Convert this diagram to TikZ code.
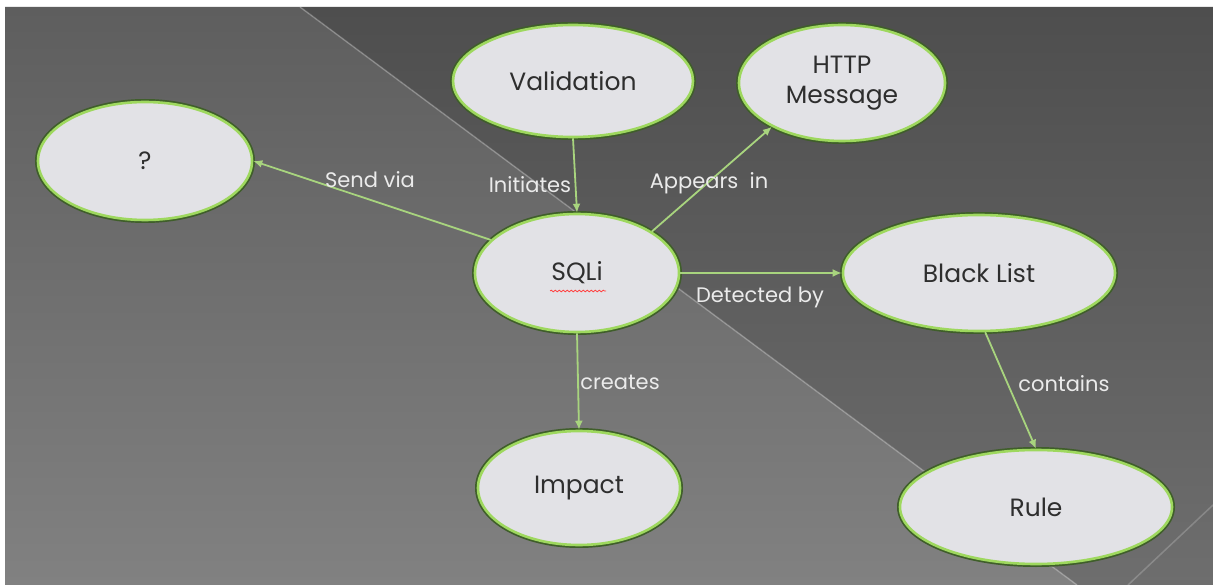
\documentclass[tikz,border=0pt]{standalone}
\usepackage{fontspec}
\setmainfont{Poppins}
\usetikzlibrary{shapes.geometric,arrows.meta,decorations.pathmorphing}

\definecolor{bgTopL}{HTML}{5E5E5E}
\definecolor{bgBotL}{HTML}{818181}
\definecolor{bgTopR}{HTML}{4E4E4E}
\definecolor{bgBotR}{HTML}{6E6E6E}
\definecolor{ringGreen}{HTML}{9ED85E}
\definecolor{ringDark}{HTML}{3F5E2A}
\definecolor{bubbleFill}{HTML}{E2E2E6}
\definecolor{linkGreen}{HTML}{A8D47E}
\definecolor{bubbleText}{HTML}{2E2E2E}
\definecolor{linkText}{HTML}{EBEBEB}

\tikzset{
  concept/.style={ellipse, inner sep=0pt, fill=bubbleFill,
    preaction={draw=ringDark, line width=6pt},
    draw=ringGreen, line width=2.6pt,
    text=bubbleText, font=\fontsize{25}{30}\selectfont, align=center},
  link/.style={draw=linkGreen, line width=1.8pt,
    -{Latex[length=9pt,width=8pt]}},
  linklabel/.style={text=linkText, font=\fontsize{21}{25}\selectfont, inner sep=0pt}
}

\begin{document}
\begin{tikzpicture}[x=1pt,y=-1pt]
  % canvas
  \fill[white] (0,0) rectangle (1213,585);
  \useasboundingbox (0,0) rectangle (1213,585);
  % two-tone slide background split by a diagonal
  \shade[top color=bgTopL, bottom color=bgBotL]
    (5,7) -- (300,7) -- (1077,585) -- (5,585) -- cycle;
  \shade[top color=bgTopR, bottom color=bgBotR]
    (300,7) -- (1213,7) -- (1213,585) -- (1077,585) -- cycle;
  \draw[color=white, opacity=0.25, line width=1.5pt] (300,7) -- (1077,585);
  \draw[color=white, opacity=0.2, line width=1.5pt] (1213,505) -- (1128,585);

  % concepts
  \node[concept, minimum width=214pt, minimum height=118pt] (q)    at (145,161) {?};
  \node[concept, minimum width=240pt, minimum height=112pt] (val)  at (573,81)  {Validation};
  \node[concept, minimum width=206pt, minimum height=116pt] (http) at (842,83)  {HTTP\\Message};
  \node[concept, minimum width=204pt, minimum height=118pt] (sqli) at (577,273) {SQLi};
  \node[concept, minimum width=272pt, minimum height=116pt] (bl)   at (979,273) {Black List};
  \node[concept, minimum width=202pt, minimum height=114pt] (imp)  at (579,488) {Impact};
  \node[concept, minimum width=272pt, minimum height=114pt] (rule) at (1036,507) {Rule};

  % spell-check squiggle under SQLi
  \coordinate (sqA) at (550,291);
  \coordinate (sqB) at (606,291);
  \draw[red!75!white, line width=0.8pt, decorate,
        decoration={snake, amplitude=0.8pt, segment length=4pt}] (sqA) -- (sqB);

  % relations
  \draw[link] (sqli.159) -- (q.east);
  \draw[link] (val.south) -- (sqli.north);
  \draw[link] (sqli.29) -- (http.212);
  \draw[link] (sqli.east) -- (bl.west);
  \draw[link] (sqli.south) -- (imp.north);
  \draw[link] (bl.276) -- (rule.north);

  % relation labels
  \node[linklabel] (lSend)   at (370,180) {Send via};
  \node[linklabel] (lInit)   at (530,185) {Initiates};
  \node[linklabel] (lApp)    at (709,183) {Appears\ \ in};
  \node[linklabel] (lDet)    at (760,297) {Detected by};
  \node[linklabel] (lCreate) at (620,382) {creates};
  \node[linklabel] (lCont)   at (1064,384) {contains};
\end{tikzpicture}
\end{document}
